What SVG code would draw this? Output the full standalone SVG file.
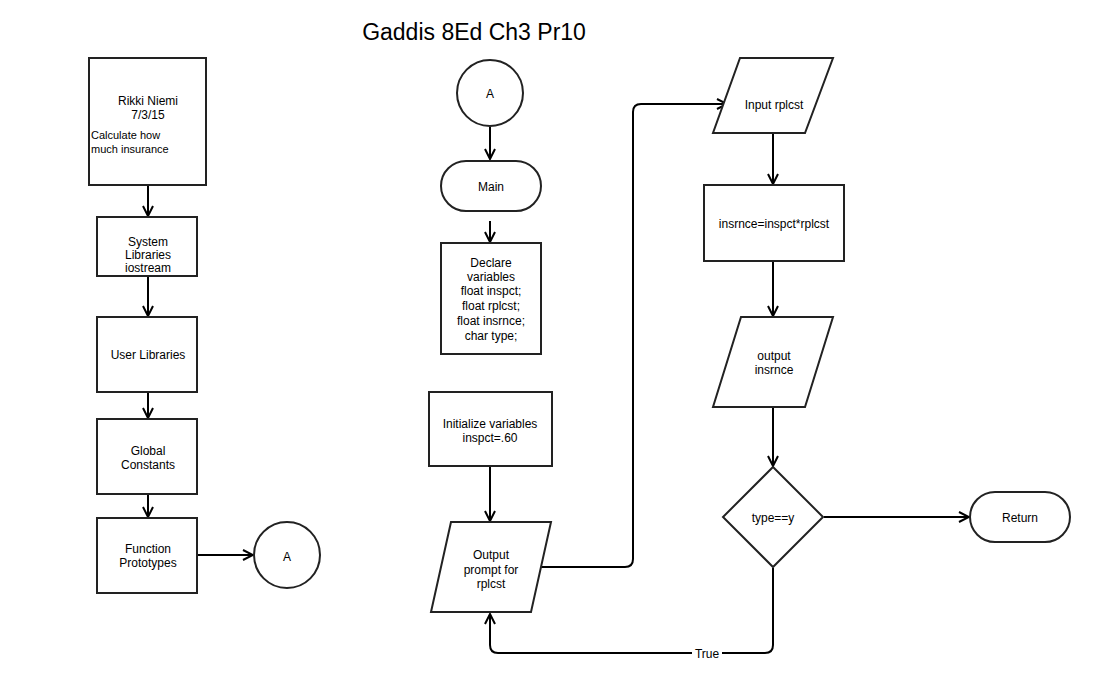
<svg xmlns="http://www.w3.org/2000/svg" width="1096" height="679" viewBox="0 0 1096 679">
<style>
.n{fill:#fff;stroke:#222;stroke-width:2}
.t{font-family:"Liberation Sans",Arial,sans-serif;font-size:12px;fill:#000;text-anchor:middle}
.l{text-anchor:start;font-size:11px}
.c{fill:none;stroke:#000;stroke-width:2;marker-end:url(#ah)}
.title{font-family:"Liberation Sans",Arial,sans-serif;font-size:23px;fill:#000;text-anchor:middle}
</style>
<defs>
<marker id="ah" viewBox="0 0 12 12" refX="11" refY="6" markerWidth="12" markerHeight="12" markerUnits="userSpaceOnUse" orient="auto">
<path d="M1,1 L11,6 L1,11" fill="none" stroke="#000" stroke-width="2"/>
</marker>
</defs>
<rect width="1096" height="679" fill="#fff"/>
<text class="title" x="474" y="40">Gaddis 8Ed Ch3 Pr10</text>

<g id="connectors">
<path class="c" d="M148,186 V216"/>
<path class="c" d="M148,277 V316"/>
<path class="c" d="M148,393 V418"/>
<path class="c" d="M148,495 V517"/>
<path class="c" d="M198,555 H253"/>
<path class="c" d="M490,127 V159"/>
<path class="c" d="M490,221 V242"/>
<path class="c" d="M490,467 V521"/>
<path class="c" d="M541,567 H625 Q633,567 633,559 V112 Q633,104 641,104 H727"/>
<path class="c" d="M773,134 V184"/>
<path class="c" d="M773,262 V316"/>
<path class="c" d="M773,408 V466"/>
<path class="c" d="M824,517 H969"/>
<path class="c" d="M773,568 V645 Q773,653 765,653 H498 Q490,653 490,645 V614"/>
<rect x="692" y="645" width="30" height="16" fill="#fff"/>
<text class="t" x="707" y="658">True</text>
</g>

<g id="n-header">
<rect class="n" x="89" y="58" width="117" height="127"/>
<text class="t" x="148" y="105">Rikki Niemi</text>
<text class="t" x="148" y="119">7/3/15</text>
<text class="t l" x="91" y="139">Calculate how</text>
<text class="t l" x="91" y="153">much insurance</text>
</g>
<g id="n-syslib">
<rect class="n" x="97" y="217" width="100" height="59"/>
<text class="t" x="148" y="246">System</text>
<text class="t" x="148" y="259">Libraries</text>
<text class="t" x="148" y="272">iostream</text>
</g>
<g id="n-userlib">
<rect class="n" x="97" y="317" width="100" height="75"/>
<text class="t" x="148" y="359">User Libraries</text>
</g>
<g id="n-global">
<rect class="n" x="97" y="419" width="100" height="75"/>
<text class="t" x="148" y="455">Global</text>
<text class="t" x="148" y="469">Constants</text>
</g>
<g id="n-proto">
<rect class="n" x="97" y="518" width="100" height="75"/>
<text class="t" x="148" y="553">Function</text>
<text class="t" x="148" y="567">Prototypes</text>
</g>
<g id="n-a1">
<circle class="n" cx="287" cy="555" r="33"/>
<text class="t" x="287" y="561">A</text>
</g>

<g id="n-a2">
<circle class="n" cx="490" cy="93" r="33"/>
<text class="t" x="490" y="98">A</text>
</g>
<g id="n-main">
<rect class="n" x="441" y="161" width="100" height="50" rx="25" ry="25"/>
<text class="t" x="491" y="191">Main</text>
</g>
<g id="n-declare">
<rect class="n" x="441" y="243" width="100" height="111"/>
<text class="t" x="491" y="267">Declare</text>
<text class="t" x="491" y="281">variables</text>
<text class="t" x="491" y="295">float inspct;</text>
<text class="t" x="491" y="310">float rplcst;</text>
<text class="t" x="491" y="325">float insrnce;</text>
<text class="t" x="491" y="340">char type;</text>
</g>
<g id="n-init">
<rect class="n" x="429" y="392" width="123" height="74"/>
<text class="t" x="490" y="428">Initialize variables</text>
<text class="t" x="490" y="442">inspct=.60</text>
</g>
<g id="n-prompt">
<polygon class="n" points="451,522 551,522 531,612 431,612"/>
<text class="t" x="491" y="559">Output</text>
<text class="t" x="491" y="574">prompt for</text>
<text class="t" x="491" y="588">rplcst</text>
</g>

<g id="n-input">
<polygon class="n" points="740,58 833,58 805,133 713,133"/>
<text class="t" x="774" y="109">Input rplcst</text>
</g>
<g id="n-calc">
<rect class="n" x="704" y="185" width="140" height="76"/>
<text class="t" x="774" y="228">insrnce=inspct*rplcst</text>
</g>
<g id="n-out">
<polygon class="n" points="741,317 833,317 805,407 713,407"/>
<text class="t" x="774" y="360">output</text>
<text class="t" x="774" y="374">insrnce</text>
</g>
<g id="n-dec">
<polygon class="n" points="773,467 823,517 773,567 723,517"/>
<text class="t" x="773" y="522">type==y</text>
</g>
<g id="n-return">
<rect class="n" x="970" y="492" width="100" height="50" rx="25" ry="25"/>
<text class="t" x="1020" y="522">Return</text>
</g>
</svg>
